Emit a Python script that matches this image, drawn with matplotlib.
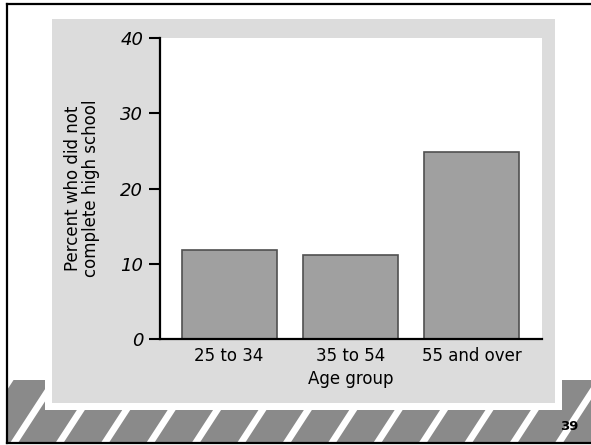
import matplotlib
matplotlib.use("Agg")
import matplotlib.pyplot as plt
from matplotlib.patches import Rectangle, Polygon

# percent of adults who did not complete high school, by age group
age_groups = ["25 to 34", "35 to 54", "55 and over"]
pct_no_hs = [11.8, 11.1, 24.9]
y_ticks = [0, 10, 20, 30, 40]

W, H = 591, 445
fig = plt.figure(figsize=(W / 100, H / 100), dpi=100)
fig.patch.set_facecolor("white")

# slide decoration drawn in pixel coordinates
bg = fig.add_axes([0, 0, 1, 1])
bg.set_xlim(0, W)
bg.set_ylim(H, 0)
bg.axis("off")

band_top, band_bot = 380, 443
bg.add_patch(Rectangle((7, band_top), W - 7, band_bot - band_top,
                       facecolor="#8a8a8a", edgecolor="none", zorder=1))
slope = 0.65
stripe_w = 8
x0 = 10 - 45.4 * 2
while x0 < W + 60:
    h = band_bot - band_top
    pts = [(x0, band_bot), (x0 + stripe_w, band_bot),
           (x0 + stripe_w + slope * h, band_top), (x0 + slope * h, band_top)]
    bg.add_patch(Polygon(pts, closed=True, facecolor="white",
                         edgecolor="none", zorder=2))
    x0 += 45.4

# white margin and light gray panel
bg.add_patch(Rectangle((45, 12), 517, 398, facecolor="white",
                       edgecolor="none", zorder=3))
bg.add_patch(Rectangle((52, 19), 503, 384, facecolor="#dcdcdc",
                       edgecolor="none", zorder=4))

# frame lines
bg.plot([7, 7], [4, 443], color="black", lw=1.6, zorder=6)
bg.plot([7, W], [4, 4], color="black", lw=1.6, zorder=6)
bg.plot([7, W], [443, 443], color="black", lw=1.6, zorder=6)
bg.text(569, 426, "39", fontsize=9.5, fontweight="bold", ha="center",
        va="center", zorder=7)

# chart
ax = fig.add_axes([160 / W, 1 - 339 / H, (542 - 160) / W, (339 - 38) / H])
ax.set_facecolor("white")
x = list(range(len(age_groups)))
ax.bar(x, pct_no_hs, width=0.785, color="#a0a0a0", edgecolor="#505050",
       linewidth=1.2)
ax.set_xlim(-0.57, 2.58)
ax.set_ylim(0, 40)
ax.set_yticks(y_ticks)
ax.set_yticklabels([str(t) for t in y_ticks], fontsize=13, style="italic")
ax.set_xticks(x)
ax.set_xticklabels(age_groups, fontsize=12)
ax.tick_params(axis="x", length=0, pad=6)
ax.tick_params(axis="y", length=8, width=1.5, pad=4, direction="out")
for s in ["top", "right"]:
    ax.spines[s].set_visible(False)
ax.spines["left"].set_linewidth(1.6)
ax.spines["bottom"].set_linewidth(1.6)
ax.set_xlabel("Age group", fontsize=12, labelpad=3)
ax.set_ylabel("Percent who did not\ncomplete high school", fontsize=12,
              linespacing=0.95, labelpad=15)

fig.savefig("out.png", dpi=100)
